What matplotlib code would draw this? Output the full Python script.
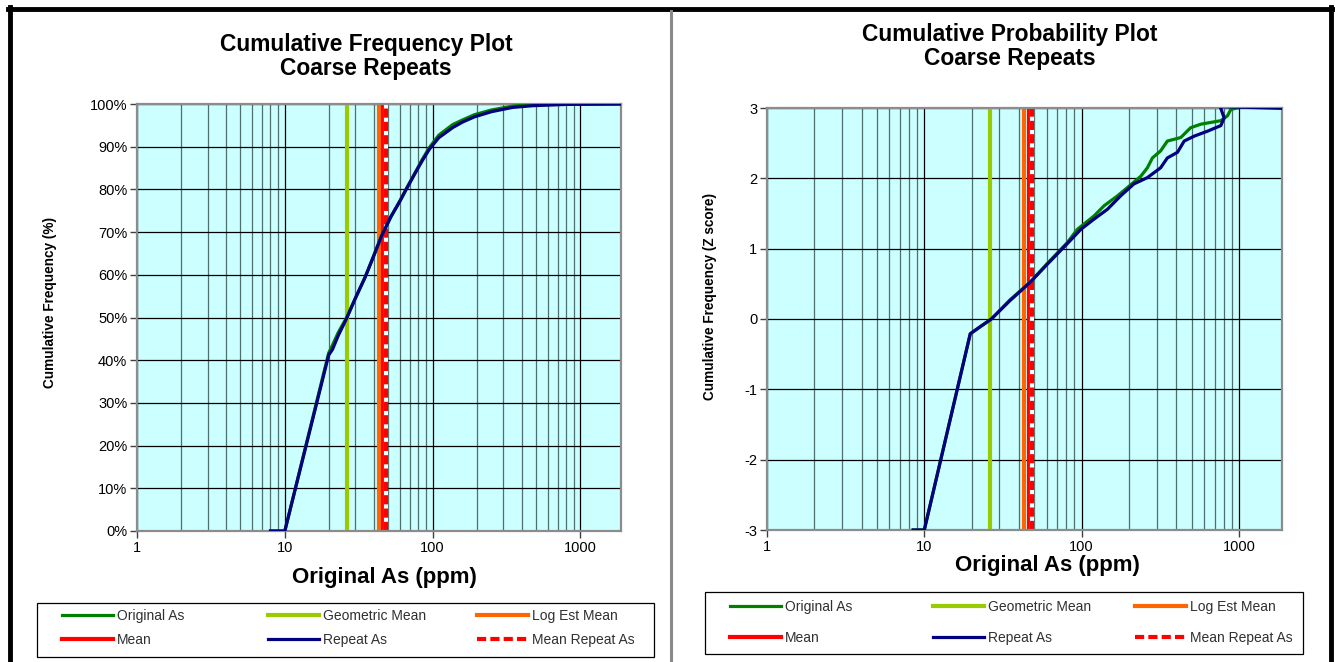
import numpy as np
import matplotlib.pyplot as plt
from matplotlib.lines import Line2D
from matplotlib.patches import Rectangle
from matplotlib.ticker import FixedLocator, FuncFormatter, LogLocator, NullFormatter

plt.rcParams['font.family'] = ['Liberation Sans', 'DejaVu Sans']

# -------- DATA ---------------------------------
# cumulative frequency plot, original samples (ppm, %)
cf_orig_x = [8, 10, 19.8, 21, 23, 26.2, 30, 35, 40, 45, 52, 60, 66, 75, 85, 95, 110, 137, 160, 192, 250, 347, 475, 800, 1880]
cf_orig_y = [0, 0, 41.7, 43.5, 46.5, 50, 54.5, 59.5, 64.5, 69, 73.5, 77.3, 80, 83.5, 87, 89.8, 92.7, 95.2, 96.3, 97.5, 98.6, 99.5, 99.9, 100, 100]
# cumulative frequency plot, repeat samples
cf_rep_x = [8, 10, 19.8, 21, 23, 26.2, 30, 35, 40, 45, 52, 60, 66, 75, 85, 95, 110, 137, 160, 192, 250, 347, 475, 800, 1880]
cf_rep_y = [0, 0, 41.2, 42.5, 45.8, 49.8, 54.5, 59.5, 64.5, 69, 73.5, 77.2, 79.9, 83.4, 86.7, 89.4, 92.1, 94.5, 95.8, 97, 98.2, 99.2, 99.6, 99.9, 100]

# cumulative probability plot (ppm, z score)
cp_orig_x = [8.5, 10, 19.6, 23, 26.7, 35, 47, 60, 81, 94, 120, 139, 169, 196, 238, 262, 282, 318, 351, 427, 494, 573, 768, 847, 889, 1070]
cp_orig_z = [-3, -3, -0.21, -0.1, 0.0, 0.27, 0.52, 0.78, 1.085, 1.275, 1.465, 1.61, 1.75, 1.87, 2.03, 2.15, 2.29, 2.39, 2.53, 2.58, 2.72, 2.77, 2.82, 2.89, 2.98, 3.02]
cp_rep_x = [8.5, 10, 19.6, 23, 26.7, 35, 47, 60, 81, 99, 120, 146, 177, 215, 262, 318, 351, 407, 449, 520, 631, 768, 806, 760, 1880]
cp_rep_z = [-3, -3, -0.21, -0.1, 0.0, 0.26, 0.52, 0.77, 1.07, 1.275, 1.42, 1.56, 1.75, 1.92, 2.01, 2.15, 2.29, 2.37, 2.53, 2.60, 2.67, 2.75, 2.86, 3.02, 2.995]

# summary statistics (ppm)
geo_mean = 26.3
log_est_mean = 43.2
mean_orig = 46.0
mean_repeat = 48.3

x_ticks = [1, 10, 100, 1000]
cf_ticks = list(range(0, 101, 10))
cp_ticks = [-3, -2, -1, 0, 1, 2, 3]

# -------- STYLE --------------------------------
c_orig = '#008000'
c_geo = '#99CC00'
c_log = '#FF6600'
c_mean = '#FF0000'
c_rep = '#000080'
bg = '#CCFFFF'
W, H = 1335, 662


def fx(px):
    return px / W


def fy(py):
    return 1 - py / H


def draw_panel(ax, ox, oy, rx, ry):
    ax.set_facecolor(bg)
    ax.set_xscale('log')
    ax.set_xlim(1, 1880)
    ax.xaxis.set_major_locator(FixedLocator(x_ticks))
    ax.xaxis.set_major_formatter(FuncFormatter(lambda v, p: f'{v:g}'))
    ax.xaxis.set_minor_locator(LogLocator(base=10, subs=np.arange(2, 10)))
    ax.xaxis.set_minor_formatter(NullFormatter())
    ax.grid(which='major', color='black', lw=0.9, zorder=0)
    ax.grid(which='minor', axis='x', color='#4f6f6f', lw=0.9, zorder=0)
    ax.set_axisbelow(True)
    ax.tick_params(which='minor', length=0)
    ax.tick_params(which='major', direction='out', length=5, width=1, color='#404040',
                   labelsize=10.5, pad=2)
    for s in ax.spines.values():
        s.set_color('#8c8c8c')
        s.set_linewidth(1.6)

    h = {}
    h['Geometric Mean'] = ax.axvline(geo_mean, color=c_geo, lw=3, zorder=2)
    h['Log Est Mean'] = ax.axvline(log_est_mean, color=c_log, lw=3, zorder=2)
    h['Mean'] = ax.axvline(mean_orig, color=c_mean, lw=3, zorder=2)
    ax.axvline(mean_repeat, color='white', lw=3, zorder=2)
    h['Mean Repeat As'] = ax.axvline(mean_repeat, color=c_mean, lw=3, dashes=(2.2, 1.0), zorder=2)
    h['Original As'], = ax.plot(ox, oy, color=c_orig, lw=2.3, zorder=3)
    h['Repeat As'], = ax.plot(rx, ry, color=c_rep, lw=2.3, zorder=4)
    return h


def draw_legend(fig, h, box, cols, rows):
    x0, y0, x1, y1 = box
    fig.add_artist(Rectangle((fx(x0), fy(y1)), fx(x1 - x0), (y1 - y0) / H,
                             transform=fig.transFigure, fill=False, ec='black', lw=0.9))
    order = [['Original As', 'Geometric Mean', 'Log Est Mean'],
             ['Mean', 'Repeat As', 'Mean Repeat As']]
    for r, row in enumerate(order):
        for c, name in enumerate(row):
            leg = fig.legend([h[name]], [name], loc='center left',
                             bbox_to_anchor=(fx(cols[c]), fy(rows[r])),
                             frameon=False, fontsize=10, handlelength=3.7,
                             handletextpad=0.25, borderpad=0, borderaxespad=0)
            for t in leg.get_texts():
                t.set_color('#303030')


fig = plt.figure(figsize=(13.35, 6.62), dpi=100)

# left panel
ax1 = fig.add_axes([fx(137), fy(531), fx(621 - 137), (531 - 104) / H])
h1 = draw_panel(ax1, cf_orig_x, cf_orig_y, cf_rep_x, cf_rep_y)
ax1.set_ylim(0, 100)
ax1.yaxis.set_major_locator(FixedLocator(cf_ticks))
ax1.yaxis.set_major_formatter(FuncFormatter(lambda v, p: f'{v:.0f}%'))
fig.text(fx(366), fy(45), 'Cumulative Frequency Plot', ha='center', va='center',
         fontsize=16.4, fontweight='bold')
fig.text(fx(366), fy(69), 'Coarse Repeats', ha='center', va='center',
         fontsize=16.4, fontweight='bold')
fig.text(fx(384), fy(577), 'Original As (ppm)', ha='center', va='center',
         fontsize=16, fontweight='bold')
fig.text(fx(50), fy(303), 'Cumulative Frequency (%)', ha='center', va='center',
         rotation=90, fontsize=9.8, fontweight='bold')
draw_legend(fig, h1, (37, 603, 654, 657), [62, 268, 477], [616, 640])

# right panel
ax2 = fig.add_axes([fx(767), fy(530), fx(1282 - 767), (530 - 108) / H])
h2 = draw_panel(ax2, cp_orig_x, cp_orig_z, cp_rep_x, cp_rep_z)
ax2.set_ylim(-3, 3)
ax2.yaxis.set_major_locator(FixedLocator(cp_ticks))
ax2.yaxis.set_major_formatter(FuncFormatter(lambda v, p: f'{v:.0f}'))
fig.text(fx(1010), fy(35), 'Cumulative Probability Plot', ha='center', va='center',
         fontsize=16.4, fontweight='bold')
fig.text(fx(1010), fy(59), 'Coarse Repeats', ha='center', va='center',
         fontsize=16.4, fontweight='bold')
fig.text(fx(1047), fy(565), 'Original As (ppm)', ha='center', va='center',
         fontsize=16, fontweight='bold')
fig.text(fx(710), fy(296), 'Cumulative Frequency (Z score)', ha='center', va='center',
         rotation=90, fontsize=9.8, fontweight='bold')
draw_legend(fig, h2, (705, 592, 1303, 654), [730, 933, 1135], [607, 638])

# outer frame and panel separator
fig.add_artist(Line2D([fx(8), fx(1333)], [fy(9), fy(9)], transform=fig.transFigure,
                      color='black', lw=3.5))
fig.add_artist(Line2D([fx(10), fx(10)], [fy(7), 0], transform=fig.transFigure,
                      color='black', lw=3.5))
fig.add_artist(Line2D([fx(1330.5), fx(1330.5)], [fy(7), 0], transform=fig.transFigure,
                      color='black', lw=3.5))
fig.add_artist(Line2D([fx(670.5), fx(670.5)], [fy(11), 0], transform=fig.transFigure,
                      color='#8a8a8a', lw=2.2))

fig.savefig('out.png', dpi=100)
